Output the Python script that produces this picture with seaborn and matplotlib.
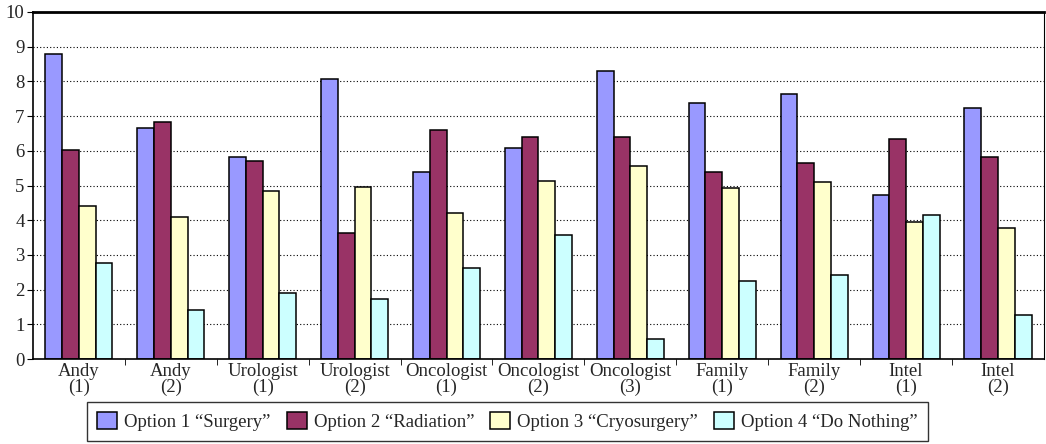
import pandas as pd
import seaborn as sns
import matplotlib.pyplot as plt
import numpy as np

groups = ["Andy\n(1)", "Andy\n(2)", "Urologist\n(1)", "Urologist\n(2)", "Oncologist\n(1)",
          "Oncologist\n(2)", "Oncologist\n(3)", "Family\n(1)", "Family\n(2)", "Intel\n(1)", "Intel\n(2)"]
options = ["Option 1 \u201cSurgery\u201d", "Option 2 \u201cRadiation\u201d",
           "Option 3 \u201cCryosurgery\u201d", "Option 4 \u201cDo Nothing\u201d"]
surgery = [8.8, 6.67, 5.82, 8.08, 5.40, 6.08, 8.29, 7.39, 7.65, 4.72, 7.23]
radiation = [6.02, 6.82, 5.71, 3.62, 6.60, 6.40, 6.41, 5.40, 5.66, 6.35, 5.83]
cryosurgery = [4.40, 4.09, 4.83, 4.97, 4.20, 5.14, 5.56, 4.93, 5.09, 3.94, 3.78]
do_nothing = [2.78, 1.42, 1.89, 1.73, 2.63, 3.56, 0.58, 2.26, 2.41, 4.14, 1.27]
colors = ["#9999FF", "#993366", "#FFFFCC", "#CCFFFF"]

df = pd.DataFrame({
    "group": groups * 4,
    "option": np.repeat(options, len(groups)),
    "score": surgery + radiation + cryosurgery + do_nothing,
})

sns.set_style("white")
plt.rcParams["font.family"] = ["Liberation Serif", "DejaVu Serif"]

fig = plt.figure(figsize=(10.46, 4.44), dpi=100)
ax = fig.add_axes([0.0315, 0.1914, 0.9665, 0.7816])

sns.barplot(data=df, x="group", y="score", hue="option", palette=colors, saturation=1,
            width=0.73, edgecolor="black", linewidth=1.1, ax=ax)

ax.set_ylim(0, 10)
ax.set_xlim(-0.5, len(groups) - 0.5)
ax.set_yticks(range(0, 11))
ax.yaxis.grid(True, linestyle=(0, (1, 2)), color="black", linewidth=0.8)
ax.set_axisbelow(True)
ax.set_xlabel("")
ax.set_ylabel("")

# labels centred on groups, ticks between groups
ax.tick_params(axis="x", which="major", length=0, labelsize=13.5, pad=3)
ax.set_xticks(np.arange(0.5, len(groups) - 0.5), minor=True)
ax.tick_params(axis="x", which="minor", length=4, direction="out", color="black", bottom=True)
ax.tick_params(axis="y", length=4, direction="out", color="black", left=True, labelsize=13.5, pad=2)
for lbl in ax.get_xticklabels():
    lbl.set_linespacing(0.9)

for side in ["left", "bottom", "right", "top"]:
    ax.spines[side].set_color("black")
    ax.spines[side].set_visible(True)
ax.spines["left"].set_linewidth(1.2)
ax.spines["bottom"].set_linewidth(1.2)
ax.spines["top"].set_linewidth(2)
ax.spines["right"].set_linewidth(0.8)

handles, labels = ax.get_legend_handles_labels()
ax.get_legend().remove()
leg = fig.legend(handles, labels, loc="lower center", bbox_to_anchor=(0.485, 0.006), ncol=4,
                 frameon=True, fancybox=False, edgecolor="black", fontsize=13.5,
                 handlelength=1.07, handleheight=1.07, handletextpad=0.37, columnspacing=0.85,
                 borderpad=0.55, borderaxespad=0)
leg.get_frame().set_linewidth(1)

plt.savefig("out.png", dpi=100)
plt.close()
